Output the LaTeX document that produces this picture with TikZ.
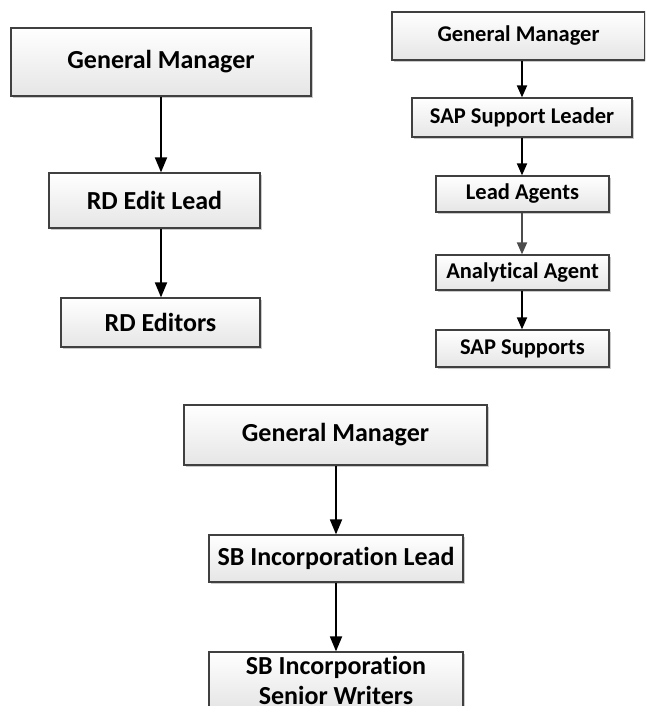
\documentclass[tikz,border=0pt]{standalone}
\usepackage{fontspec}
\setmainfont{Carlito}[Ligatures=CommonOff]
\usetikzlibrary{arrows.meta,shadows}
\begin{document}
\begin{tikzpicture}[x=1pt, y=-1pt,
    main/.style = {draw=black!75, line width=1.2pt, top color=white, bottom color=black!10, drop shadow={shadow xshift=2pt, shadow yshift=-2pt, opacity=0.35, fill=black!60}, inner sep=0pt, align=center, font=\bfseries\fontsize{26}{30}\selectfont},
    sap/.style = {main, font=\bfseries\fontsize{22.5}{27}\selectfont},
    arr/.style = {line width=1.8pt, -{Triangle[length=15pt, width=12pt]}},
    sarr/.style = {line width=1.8pt, -{Triangle[length=12pt, width=10pt]}}]
    \clip (0,0) rectangle (645,706);
    \node[main, minimum width=300pt, minimum height=68pt] (1) at (161,62) {General Manager};
    \node[main, minimum width=211pt, minimum height=55pt] (2) at (154.5,200.5) {RD Edit Lead};
    \node[main, minimum width=199pt, minimum height=49pt] (3) at (160.5,322.5) {RD Editors};
    \node[sap, minimum width=253pt, minimum height=48pt] (4) at (518.5,36) {General Manager};
    \node[sap, minimum width=220pt, minimum height=39pt] (5) at (522,117.5) {SAP Support Leader};
    \node[sap, minimum width=173pt, minimum height=36pt] (6) at (522.5,194) {Lead Agents};
    \node[sap, minimum width=173pt, minimum height=35pt] (7) at (522.5,272.5) {Analytical Agent};
    \node[sap, minimum width=173pt, minimum height=37pt] (8) at (522.5,348.5) {SAP Supports};
    \node[main, minimum width=303pt, minimum height=60pt] (9) at (335.5,435) {General Manager};
    \node[main, minimum width=254pt, minimum height=47pt] (10) at (336,558.5) {SB Incorporation Lead};
    \node[main, minimum width=254pt, minimum height=56pt] (11) at (336,680) {SB Incorporation\\Senior Writers};
    \draw[arr] (1) -- (1 |- 2.north);
    \draw[arr] (2.south -| 1) -- (1 |- 3.north);
    \draw[sarr] (4.south -| 5) -- (5);
    \draw[sarr] (5) -- (5 |- 6.north);
    \draw[sarr, black!70] (6.south -| 5) -- (5 |- 7.north);
    \draw[sarr] (7.south -| 5) -- (5 |- 8.north);
    \draw[arr] (9.south -| 10) -- (10);
    \draw[arr] (10) -- (11);
\end{tikzpicture}
\end{document}
